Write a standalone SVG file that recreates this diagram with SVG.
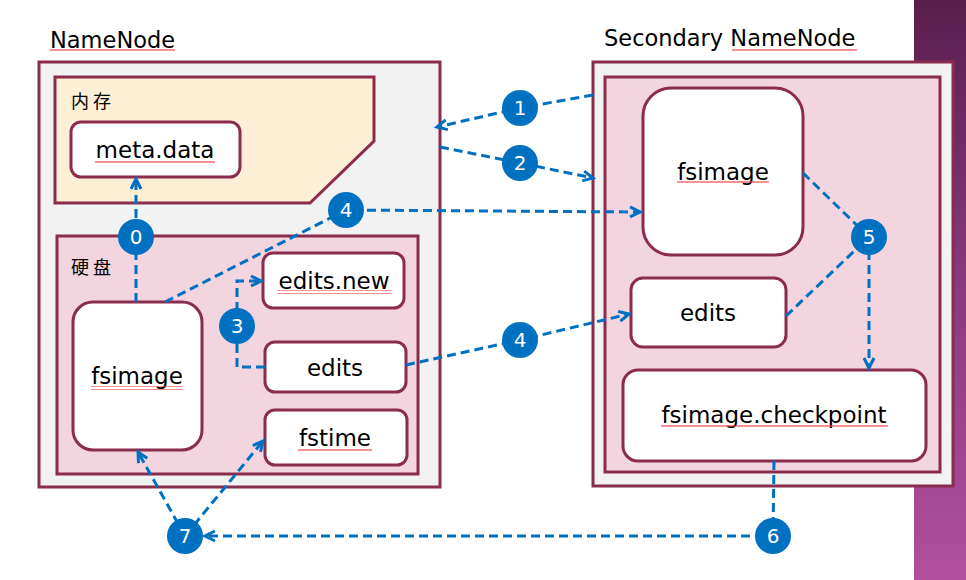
<svg xmlns="http://www.w3.org/2000/svg" width="966" height="580" viewBox="0 0 966 580">
<defs>
<linearGradient id="side" x1="0" y1="0" x2="0" y2="1">
<stop offset="0" stop-color="#5a1e4e"/>
<stop offset="0.5" stop-color="#8a3a7e"/>
<stop offset="1" stop-color="#b24f9e"/>
</linearGradient>
<marker id="arr" markerUnits="userSpaceOnUse" markerWidth="14" markerHeight="14" refX="11" refY="6" orient="auto" viewBox="0 0 14 12">
<path d="M1,1 L11,6 L1,11" fill="none" stroke="#0070C0" stroke-width="3"/>
</marker>
<pattern id="wave" width="4" height="4" patternUnits="userSpaceOnUse">
<path d="M0,3 L1,1 L2,3 L3,1 L4,3" fill="none" stroke="#ee4444" stroke-width="0.7"/>
</pattern>
</defs>
<style>
.box{stroke:#8a2c4d;stroke-width:3}
.outer{fill:#f2f2f2}
.disk{fill:#f2d5de}
.mem{fill:#fdefd6}
.node{fill:#ffffff}
.t{font-family:"DejaVu Sans","Liberation Sans",sans-serif;font-size:23px;fill:#000;text-anchor:middle}
.title{font-family:"DejaVu Sans","Liberation Sans",sans-serif;font-size:22.5px;fill:#000}
.cjk{font-family:"Noto Sans CJK SC",sans-serif;font-size:18px;fill:#000}
.c{stroke:#0070C0;stroke-width:3;stroke-dasharray:9 5;fill:none}
.dot{fill:#0070C0}
.n{font-family:"DejaVu Sans","Liberation Sans",sans-serif;font-size:20px;fill:#fff;text-anchor:middle}
.sq{fill:url(#wave)}
</style>
<rect x="0" y="0" width="966" height="580" fill="#ffffff"/>
<rect x="914" y="0" width="52" height="580" fill="url(#side)"/>

<g id="namenode">
<text class="title" x="50" y="48">NameNode</text>
<rect class="sq" x="50" y="49" width="125" height="4"/>
<rect class="box outer" x="39" y="62" width="401" height="425"/>
</g>
<g id="memory">
<polygon class="box mem" points="55,77 374,77 374,141 310,203 55,203"/>
<text class="cjk" x="71" y="108">内 存</text>
</g>
<g id="metadata">
<rect class="box node" x="71" y="122" width="169" height="55" rx="10"/>
<text class="t" x="155" y="158">meta.data</text>
<rect class="sq" x="95" y="159" width="120" height="4"/>
</g>
<g id="disk">
<rect class="box disk" x="57" y="236" width="361" height="238"/>
<text class="cjk" x="71" y="274">硬 盘</text>
</g>
<g id="fsimage-nn">
<rect class="box node" x="73" y="302" width="129" height="148" rx="20"/>
<text class="t" x="137" y="384">fsimage</text>
<rect class="sq" x="91" y="386" width="92" height="4"/>
</g>
<g id="editsnew">
<rect class="box node" x="263" y="253" width="141" height="55" rx="10"/>
<text class="t" x="334" y="289">edits.new</text>
<rect class="sq" x="277" y="290" width="115" height="4"/>
</g>
<g id="edits-nn">
<rect class="box node" x="265" y="342" width="141" height="50" rx="10"/>
<text class="t" x="335" y="376">edits</text>
</g>
<g id="fstime">
<rect class="box node" x="265" y="410" width="142" height="55" rx="10"/>
<text class="t" x="335" y="446">fstime</text>
<rect class="sq" x="298" y="447" width="74" height="4"/>
</g>

<g id="secondary">
<text class="title" x="604" y="46">Secondary NameNode</text>
<rect class="sq" x="732" y="47" width="125" height="4"/>
<rect class="box outer" x="593" y="62" width="360" height="424"/>
<rect class="box disk" x="605" y="77" width="335" height="395"/>
</g>
<g id="fsimage-snn">
<rect class="box node" x="643" y="88" width="160" height="167" rx="28"/>
<text class="t" x="723" y="180">fsimage</text>
<rect class="sq" x="677" y="181" width="92" height="4"/>
</g>
<g id="edits-snn">
<rect class="box node" x="631" y="278" width="155" height="69" rx="12"/>
<text class="t" x="708" y="321">edits</text>
</g>
<g id="checkpoint">
<rect class="box node" x="623" y="370" width="303" height="91" rx="15"/>
<text class="t" x="774" y="423">fsimage.checkpoint</text>
<rect class="sq" x="661" y="424" width="227" height="4"/>
</g>

<g id="connectors">
<path class="c" d="M593,95 L520,108 L437,127" marker-end="url(#arr)"/>
<path class="c" d="M440,147 L520,163 L593,178" marker-end="url(#arr)"/>
<path class="c" d="M136,302 L136,237 L136,179" marker-end="url(#arr)"/>
<path class="c" d="M165,302 L346,210 L640,212" marker-end="url(#arr)"/>
<path class="c" d="M265,367 L237,367 L237,281 L261,281" marker-end="url(#arr)"/>
<path class="c" d="M406,365 L520,340 L629,314" marker-end="url(#arr)"/>
<path class="c" d="M803,173 L869,237"/>
<path class="c" d="M786,316 L869,237"/>
<path class="c" d="M869,237 L869,368" marker-end="url(#arr)"/>
<path class="c" d="M774,461 L773,536 L205,536" marker-end="url(#arr)"/>
<path class="c" d="M185,536 L138,452" marker-end="url(#arr)"/>
<path class="c" d="M185,536 L263,441" marker-end="url(#arr)"/>
</g>

<g id="steps">
<g id="s0"><circle class="dot" cx="136" cy="237" r="18"/><text class="n" x="136" y="244">0</text></g>
<g id="s1"><circle class="dot" cx="520" cy="108" r="18"/><text class="n" x="520" y="115">1</text></g>
<g id="s2"><circle class="dot" cx="520" cy="163" r="18"/><text class="n" x="520" y="170">2</text></g>
<g id="s3"><circle class="dot" cx="237" cy="326" r="18"/><text class="n" x="237" y="333">3</text></g>
<g id="s4a"><circle class="dot" cx="346" cy="210" r="18"/><text class="n" x="346" y="217">4</text></g>
<g id="s4b"><circle class="dot" cx="520" cy="340" r="18"/><text class="n" x="520" y="347">4</text></g>
<g id="s5"><circle class="dot" cx="869" cy="237" r="18"/><text class="n" x="869" y="244">5</text></g>
<g id="s6"><circle class="dot" cx="773" cy="536" r="18"/><text class="n" x="773" y="543">6</text></g>
<g id="s7"><circle class="dot" cx="185" cy="536" r="18"/><text class="n" x="185" y="543">7</text></g>
</g>
</svg>
